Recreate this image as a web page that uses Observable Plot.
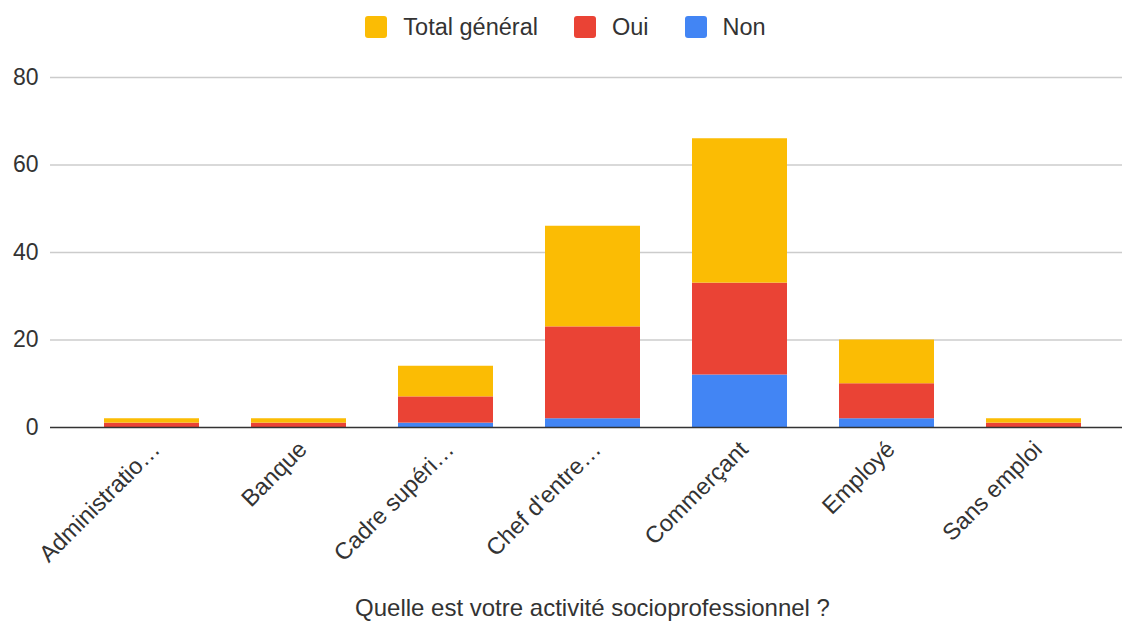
<!DOCTYPE html>
<html>
<head>
<meta charset="utf-8">
<script src="https://cdn.jsdelivr.net/npm/d3@7"></script>
<script src="https://cdn.jsdelivr.net/npm/@observablehq/plot@0.6"></script>
<style>
  html, body { margin: 0; padding: 0; background: #fff; }
  body { width: 1122px; height: 623px; overflow: hidden; font-family: "Liberation Sans", Arial, sans-serif; color: #333; }
  #legend { height: 50px; display: flex; justify-content: center; align-items: center; padding-left: 9px; padding-top: 4px; box-sizing: border-box; font-size: 23.5px; }
  .item { display: flex; align-items: center; margin: 0 18px; }
  .sw { width: 22px; height: 22px; border-radius: 3px; margin-right: 16px; }
  #xtitle { height: 33px; line-height: 36px; text-align: center; font-size: 24px; padding-left: 63px; }
</style>
</head>
<body>
<div id="legend"></div>
<div id="chart"></div>
<div id="xtitle"></div>
<script>
// Categories (as labelled on the axis) and the three stacked series
const categories = ["Administratio…", "Banque", "Cadre supéri…", "Chef d'entre…", "Commerçant", "Employé", "Sans emploi"];
const nonValues = [0, 0, 1, 2, 12, 2, 0];
const ouiValues = [1, 1, 6, 21, 21, 8, 1];
const totalValues = [1, 1, 7, 23, 33, 10, 1];
const seriesNames = ["Non", "Oui", "Total général"];
const seriesColors = ["#4285F4", "#EA4335", "#FBBC04"];
const legendOrder = ["Total général", "Oui", "Non"];
const yTicks = [0, 20, 40, 60, 80];
const xTitle = "Quelle est votre activité socioprofessionnel ?";

const valuesBySeries = {"Non": nonValues, "Oui": ouiValues, "Total général": totalValues};
const rows = [];
for (const s of seriesNames) {
  categories.forEach((c, i) => rows.push({category: c, series: s, value: valuesBySeries[s][i]}));
}

// Legend
const legend = document.getElementById("legend");
for (const s of legendOrder) {
  const item = document.createElement("div");
  item.className = "item";
  const sw = document.createElement("div");
  sw.className = "sw";
  sw.style.background = seriesColors[seriesNames.indexOf(s)];
  const label = document.createElement("span");
  label.textContent = s;
  item.append(sw, label);
  legend.append(item);
}

const chart = Plot.plot({
  width: 1122,
  height: 540,
  marginTop: 27,
  marginBottom: 163,
  marginLeft: 50,
  marginRight: 0,
  style: {fontFamily: "Liberation Sans, Arial, sans-serif", fontSize: "23px", color: "#333", background: "#fff"},
  x: {domain: categories, paddingInner: 0.355, paddingOuter: 0.316, align: 0.57, label: null},
  y: {domain: [0, 80], label: null},
  color: {domain: seriesNames, range: seriesColors},
  marks: [
    Plot.ruleY(yTicks.filter(d => d !== 0), {stroke: "#cccccc", strokeWidth: 1.5}),
    Plot.barY(rows, {x: "category", y: "value", fill: "series", order: seriesNames}),
    Plot.ruleY([0], {stroke: "#333", strokeWidth: 1.5}),
    Plot.axisY({ticks: yTicks, tickSize: 0, tickPadding: 12, fontSize: 23, fill: "#333", label: null}),
    Plot.axisX({tickRotate: -45, tickSize: 0, tickPadding: 16, dx: 4, dy: 2, fontSize: 23.5, fill: "#333", label: null})
  ]
});
document.getElementById("chart").append(chart);
document.getElementById("xtitle").textContent = xTitle;
</script>
</body>
</html>
